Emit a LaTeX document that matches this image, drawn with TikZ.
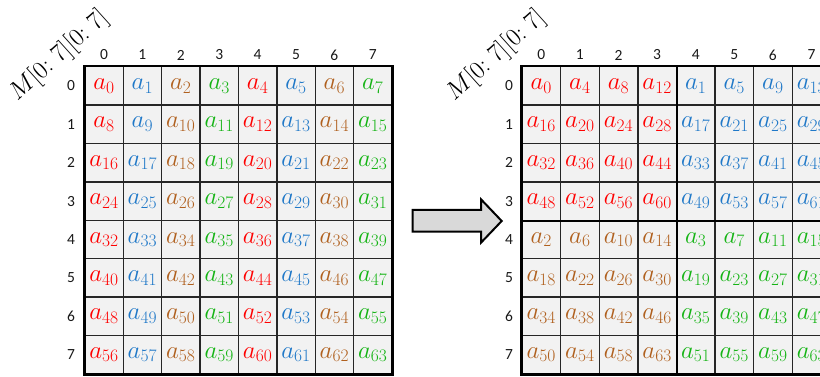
\documentclass[tikz,border=0pt]{standalone}
\usepackage{fontspec}
\usepackage{fix-cm}
\newfontfamily\lab{Carlito}
\definecolor{cR}{HTML}{FF0000}
\definecolor{cB}{HTML}{1F78C8}
\definecolor{cN}{HTML}{B0601E}
\definecolor{cG}{HTML}{14B414}
\definecolor{cellfill}{HTML}{F2F2F2}
\definecolor{arrowfill}{HTML}{D9D9D9}
\colorlet{q0}{cR}
\colorlet{q1}{cB}
\colorlet{q2}{cN}
\colorlet{q3}{cG}
\begin{document}
\begin{tikzpicture}[x=1pt,y=-1pt,
  cellbox/.style={draw=black!85, line width=1.4pt, fill=cellfill, minimum width=38.4pt, minimum height=38.4pt, inner sep=0pt, font=\fontsize{25}{28}\selectfont},
  idxlabel/.style={font=\lab\fontsize{15.5}{18}\selectfont, text=black!90, inner sep=0pt},
  framebox/.style={line width=2.8pt, draw=black},
  splitline/.style={line width=2.4pt, draw=black},
  titlelabel/.style={font=\fontsize{25}{30}\selectfont, rotate=42, inner sep=0pt},
  bigarrow/.style={draw=black, line width=2pt, fill=arrowfill, miter limit=10}]
\useasboundingbox (0,0) rectangle (820,377);
\clip (0,0) rectangle (820,377);
% left grid
\foreach \r in {0,...,7}{
  \foreach \c in {0,...,7}{
    \pgfmathtruncatemacro\n{8*\r+\c}
    \pgfmathtruncatemacro\k{mod(\c,4)}
    \node[cellbox, text=q\k] (L-\r-\c) at (84.8+38.4*\c+19.2, 66.7+38.4*\r+19.2) {$a_{\n}$};
  }
}
\foreach \i in {0,...,7}{
  \node[idxlabel] (LC\i) at (84.8+38.4*\i+19.2, 55) {\i};
  \node[idxlabel] (LR\i) at (71, 66.7+38.4*\i+19.2) {\i};
}
\draw[framebox] (L-0-0.north west) rectangle (L-7-7.south east);
\node[titlelabel] (LT) at (59,56) {$M[0{:}\;7][0{:}\;7]$};
% right grid
\foreach \r in {0,...,7}{
  \foreach \c in {0,...,7}{
    \pgfmathtruncatemacro\q{2*int(\r/4)+int(\c/4)}
    \pgfmathtruncatemacro\n{16*mod(\r,4)+4*mod(\c,4)+\q}
    \ifnum\r=7 \ifnum\c=3 \def\n{63}\fi\fi
    \node[cellbox, minimum width=38.6pt, text=q\q] (R-\r-\c) at (522+38.6*\c+19.3, 66.7+38.4*\r+19.2) {$a_{\n}$};
  }
}
\foreach \i in {0,...,7}{
  \node[idxlabel] (RC\i) at (522+38.6*\i+19.3, 55) {\i};
  \node[idxlabel] (RR\i) at (509, 66.7+38.4*\i+19.2) {\i};
}
\draw[framebox] (R-0-0.north west) rectangle (R-7-7.south east);
\draw[splitline] (R-0-3.north east) -- (R-7-3.south east);
\draw[splitline] (R-3-0.south west) -- (R-3-7.south east);
\node[titlelabel] (RT) at (496,56) {$M[0{:}\;7][0{:}\;7]$};
% arrow
\draw[bigarrow] (412.7,210) -- (481,210) -- (481,199.3) -- (501.7,221) -- (481,242.7) -- (481,231.7) -- (412.7,231.7) -- cycle;
\end{tikzpicture}
\end{document}
